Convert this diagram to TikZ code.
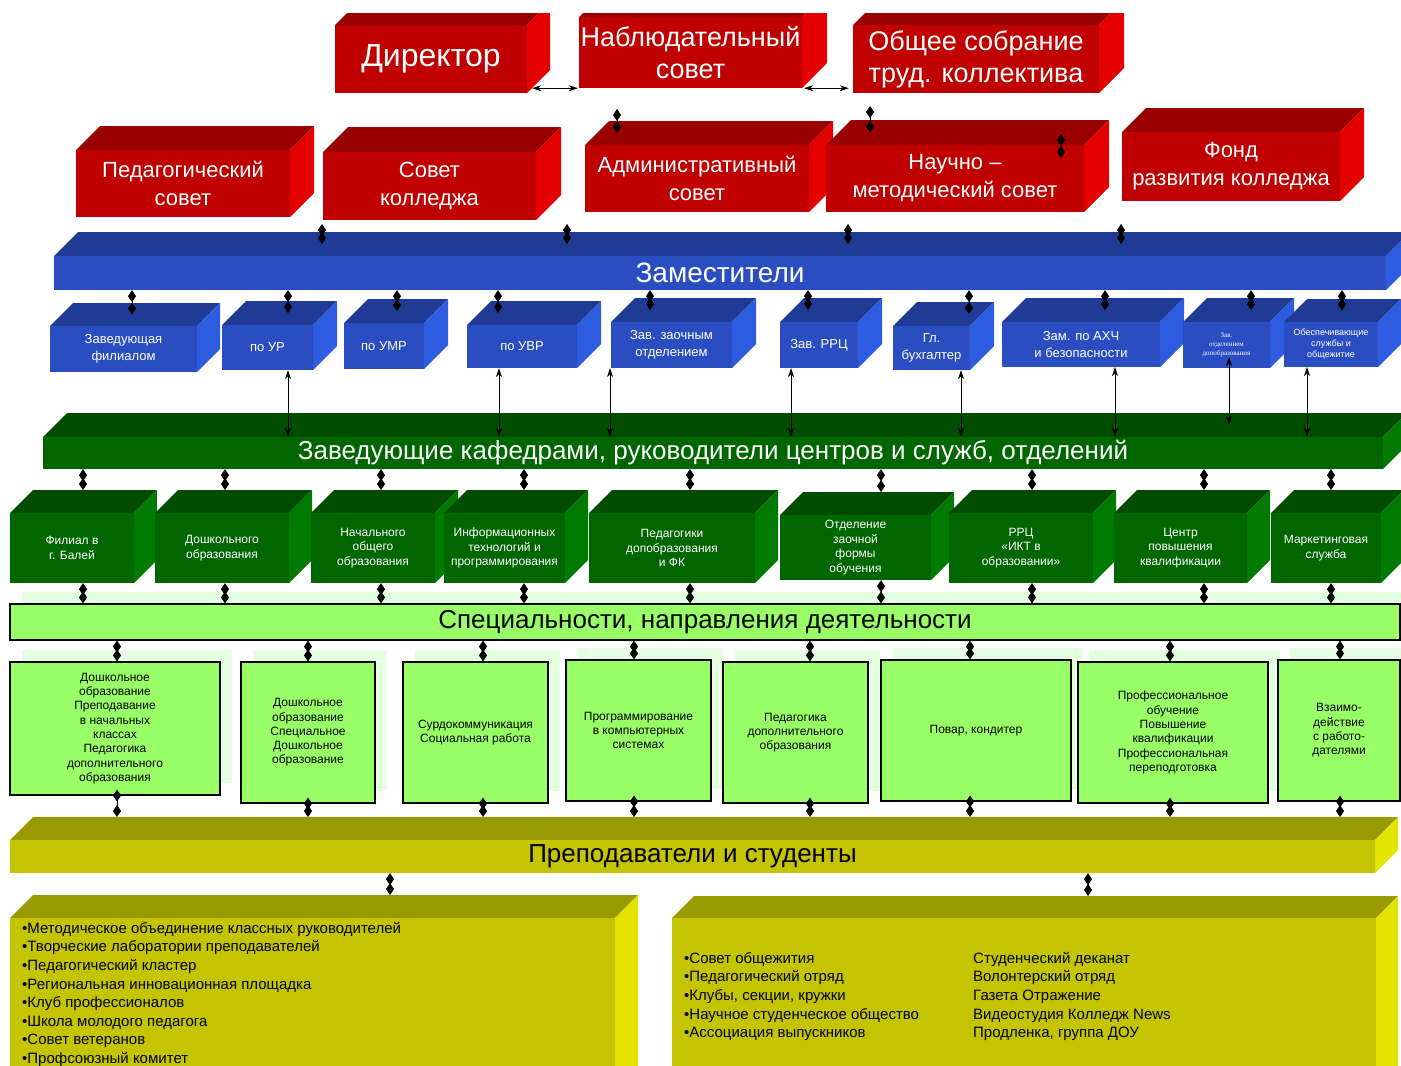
\documentclass[tikz,border=0pt]{standalone}
\usepackage{fontspec}
\setmainfont{Liberation Sans}
\newfontfamily\tinyserif{Liberation Serif}
\usetikzlibrary{arrows.meta,calc}

\definecolor{redfront}{HTML}{C00000}
\definecolor{redtop}{HTML}{990000}
\definecolor{redside}{HTML}{E50000}
\definecolor{bluefront}{HTML}{2A4EC2}
\definecolor{bluetop}{HTML}{1F3B95}
\definecolor{blueside}{HTML}{2E5CE0}
\definecolor{greenfront}{HTML}{006600}
\definecolor{greentop}{HTML}{004D00}
\definecolor{greenside}{HTML}{007A00}
\definecolor{olivefront}{HTML}{C4C400}
\definecolor{olivetop}{HTML}{999900}
\definecolor{oliveside}{HTML}{E3E300}
\definecolor{lightgreen}{HTML}{99FF66}
\definecolor{paleshade}{HTML}{E3FFE0}

\tikzset{
  face/.style={inner sep=0pt,align=center,text=white},
  toptxt/.style={font=\fontsize{27}{32}\selectfont},
  redtxt/.style={font=\fontsize{22}{28}\selectfont},
  bandtxt/.style={font=\fontsize{26}{30}\selectfont},
  subtxt/.style={font=\fontsize{13}{17}\selectfont},
  deptxt/.style={font=\fontsize{12}{14.5}\selectfont},
  lgbox/.style={draw=black,line width=1.2pt,fill=lightgreen,inner sep=0pt,align=center,font=\fontsize{12}{14.3}\selectfont},
  listtxt/.style={inner sep=0pt,align=left,font=\fontsize{15}{18.6}\selectfont},
  dia/.style={line width=0.8pt,arrows={Diamond[length=12pt,width=8pt]-Diamond[length=12pt,width=8pt]}},
  dbl/.style={line width=0.7pt,arrows={Stealth[length=9pt,width=6pt]-Stealth[length=9pt,width=6pt]}},
}

% объёмный блок: имя, x1, y1, x2, y2, глубина, цвет, стиль текста, текст
\newcommand{\blockcube}[9]{%
  \fill[#7top] (#2,#3) -- (#2+#6,#3-#6) -- (#4+#6,#3-#6) -- (#4,#3) -- cycle;
  \fill[#7side] (#4,#3) -- (#4+#6,#3-#6) -- (#4+#6,#5-#6) -- (#4,#5) -- cycle;
  \node[face,fill=#7front,minimum width=#4-#2,minimum height=#5-#3,#8] (#1) at ({(#2+#4)/2},{(#3+#5)/2}) {#9};
  \coordinate (#1-t) at ({(#2+#4+#6)/2},{#3-#6/2});
  \coordinate (#1-b) at ({(#2+#4)/2+#6},{#3-#6});
}

% светло-зелёная карточка с тенью
\newcommand{\lgcard}[6]{%
  \fill[paleshade] (#2+12,#3-12) rectangle (#4+12,#5-12);
  \node[lgbox,minimum width=#4-#2,minimum height=#5-#3] (#1) at ({(#2+#4)/2},{(#3+#5)/2}) {#6};
}

\begin{document}
\begin{tikzpicture}[x=1pt,y=-1pt]
\useasboundingbox (0,0) rectangle (1401,1066);
\clip (0,0) rectangle (1401,1066);
% верхний ряд
\begin{scope}
  \clip (0,13) rectangle (1401,1066);
  \blockcube{dir}{335}{25}{527}{93}{23}{red}{font=\fontsize{32}{38}\selectfont}{Директор}
  \blockcube{nab}{579}{17}{802}{88}{25}{red}{toptxt}{Наблюдательный\\совет}
  \blockcube{obs}{853}{25}{1099}{93}{25}{red}{toptxt}{Общее собрание\\труд. коллектива}
\end{scope}
% советы
\blockcube{pedsov}{76}{150}{290}{217}{24}{red}{redtxt}{Педагогический\\совет}
\blockcube{kolsov}{323}{152}{536}{220}{25}{red}{redtxt}{Совет\\колледжа}
\blockcube{adm}{585}{145}{809}{212}{24}{red}{redtxt}{Административный\\совет}
\blockcube{nms}{826}{145}{1084}{212}{25}{red}{redtxt}{Научно –\\методический совет}
\blockcube{fond}{1122}{132}{1340}{201}{24}{red}{redtxt}{Фонд\\развития колледжа}
% заместители
\blockcube{zam}{54}{256}{1386}{290}{24}{blue}{bandtxt,font=\fontsize{28}{32}\selectfont}{Заместители}
\blockcube{zfil}{50}{326}{197}{372}{23}{blue}{subtxt}{Заведующая\\филиалом}
\blockcube{zur}{222}{325}{313}{370}{24}{blue}{subtxt}{по УР}
\blockcube{zumr}{344}{323}{424}{369}{24}{blue}{subtxt}{по УМР}
\blockcube{zuvr}{467}{325}{577}{368}{24}{blue}{subtxt}{по УВР}
\blockcube{zzao}{611}{322}{732}{368}{24}{blue}{subtxt}{Зав. заочным\\отделением}
\blockcube{zrrc}{780}{322}{858}{368}{24}{blue}{subtxt}{Зав. РРЦ}
\blockcube{zbuh}{893}{326}{970}{370}{24}{blue}{subtxt}{Гл.\\бухгалтер}
\blockcube{zahc}{1002}{322}{1160}{367}{24}{blue}{subtxt}{Зам. по АХЧ\\и безопасности}
\blockcube{zdop}{1183}{322}{1270}{368}{24}{blue}{font=\tinyserif\fontsize{7}{9}\selectfont}{Зав.\\отделением\\допобразования}
\blockcube{zobs}{1284}{322}{1378}{367}{23}{blue}{font=\fontsize{9}{11}\selectfont}{Обеспечивающие\\службы и\\общежитие}
% кафедры и центры
\blockcube{kaf}{43}{437}{1383}{469}{24}{green}{bandtxt}{Заведующие кафедрами, руководители центров и служб, отделений}
\blockcube{kbal}{10}{513}{134}{583}{23}{green}{deptxt}{Филиал в\\г. Балей}
\blockcube{kdosh}{155}{513}{289}{583}{23}{green}{deptxt}{Дошкольного\\образования}
\blockcube{knach}{311}{513}{435}{583}{23}{green}{deptxt}{Начального\\общего\\образования}
\blockcube{kinf}{444}{513}{565}{583}{23}{green}{deptxt}{Информационных\\технологий и\\программирования}
\blockcube{kped}{589}{513}{755}{583}{23}{green}{deptxt}{Педагогики\\допобразования\\и ФК}
\blockcube{kzao}{780}{515}{931}{580}{23}{green}{deptxt}{Отделение\\заочной\\формы\\обучения}
\blockcube{krrc}{949}{513}{1093}{583}{23}{green}{deptxt}{РРЦ\\«ИКТ в\\образовании»}
\blockcube{kcpk}{1114}{513}{1247}{583}{23}{green}{deptxt}{Центр\\повышения\\квалификации}
\blockcube{kmark}{1271}{513}{1381}{583}{23}{green}{deptxt}{Маркетинговая\\служба}
% специальности
\fill[paleshade] (22,592) rectangle (1413,628);
\node[lgbox,minimum width=1390,minimum height=36,font=\fontsize{26}{30}\selectfont] (spec) at (705,622) {Специальности, направления деятельности};
\lgcard{s1}{10}{662}{220}{795}{Дошкольное\\образование\\Преподавание\\в начальных\\классах\\Педагогика\\дополнительного\\образования}
\lgcard{s2}{241}{662}{375}{803}{Дошкольное\\образование\\Специальное\\Дошкольное\\образование}
\lgcard{s3}{403}{662}{548}{803}{Сурдокоммуникация\\Социальная работа}
\lgcard{s4}{566}{660}{711}{801}{Программирование\\в компьютерных\\системах}
\lgcard{s5}{723}{662}{868}{803}{Педагогика\\дополнительного\\образования}
\lgcard{s6}{881}{660}{1071}{801}{Повар, кондитер}
\lgcard{s7}{1078}{662}{1268}{803}{Профессиональное\\обучение\\Повышение\\квалификации\\Профессиональная\\переподготовка}
\lgcard{s8}{1278}{660}{1400}{801}{Взаимо-\\действие\\с работо-\\дателями}
% преподаватели и студенты
\blockcube{prep}{10}{840}{1375}{873}{23}{olive}{bandtxt,text=black}{Преподаватели и студенты}
\blockcube{bl}{10}{918}{615}{1090}{23}{olive}{}{}
\blockcube{br}{672}{918}{1376}{1090}{22}{olive}{}{}
\node[listtxt,anchor=north west] (bltxt) at (22,922) {•Методическое объединение классных руководителей\\•Творческие лаборатории преподавателей\\•Педагогический кластер\\•Региональная инновационная площадка\\•Клуб профессионалов\\•Школа молодого педагога\\•Совет ветеранов\\•Профсоюзный комитет};
\node[listtxt,anchor=north west] (brtxt) at (684,952) {•Совет общежития\\•Педагогический отряд\\•Клубы, секции, кружки\\•Научное студенческое общество\\•Ассоциация выпускников};
\node[listtxt,anchor=north west] (brtxt2) at (973,952) {Студенческий деканат\\Волонтерский отряд\\Газета Отражение\\Видеостудия Колледж News\\Продленка, группа ДОУ};
% связи верхнего ряда
\draw[dbl,shorten <=5pt,shorten >=1pt] (nab.south west -| dir.east) -- (nab.south west);
\draw[dbl,shorten <=2pt,shorten >=4pt] (nab.south east) -- (nab.south east -| obs.west);
\coordinate (nd1) at (617,109);
\coordinate (nd2) at (870,106);
\coordinate (nd3) at (1061,134);
\draw[dia] (nd1) -- (nd1 |- adm-t);
\draw[dia] (nd2) -- (nd2 |- nms-t);
\draw[dia] (nd3) -- ++(0,24);
\foreach \x [count=\i] in {322,567,848,1121}{
  \coordinate (r\i) at (\x,224);
  \draw[dia] (r\i) -- (r\i |- zam-t);
}
% заместители -- подразделения
\foreach \x/\n in {132/zfil,288/zur,397/zumr,498/zuvr,650/zzao,808/zrrc,969/zbuh,1105/zahc,1251/zdop,1342/zobs}{
  \coordinate (d\n) at (\x,0);
  \draw[dia] (d\n |- zam.south) -- (d\n |- \n-t);
}
\foreach \x/\n in {288/zur,499/zuvr,610/zzao,791/zrrc,961/zbuh,1115/zahc,1307/zobs}{
  \coordinate (a\n) at (\x,0);
  \draw[dbl] (a\n |- \n.south) -- (a\n |- kaf.north);
}
\coordinate (azdop) at (1229,357);
\draw[dbl] (azdop) -- (azdop |- kaf-t);
% кафедры -- специальности
\foreach \x/\n in {83/kbal,225/kdosh,381/knach,524/kinf,690/kped,881/kzao,1032/krrc,1204/kcpk,1331/kmark}{
  \coordinate (g\n) at (\x,0);
  \draw[dia] (g\n |- kaf.south) -- (g\n |- \n-b);
  \draw[dia] (g\n |- \n.south) -- (g\n |- spec.north);
}
\foreach \x/\n in {117/s1,308/s2,483/s3,634/s4,810/s5,970/s6,1170/s7,1340/s8}{
  \coordinate (c\n) at (\x,0);
  \draw[dia] (c\n |- spec.south) -- (c\n |- \n.north);
  \draw[dia] ($(c\n |- \n.south)+(0,-6)$) -- (c\n |- prep-b);
}
% к нижним блокам
\coordinate (pl) at (390,0);
\coordinate (pr) at (1088,0);
\draw[dia] (pl |- prep.south) -- (pl |- bl-b);
\draw[dia] (pr |- prep.south) -- (pr |- br-b);
\end{tikzpicture}
\end{document}
